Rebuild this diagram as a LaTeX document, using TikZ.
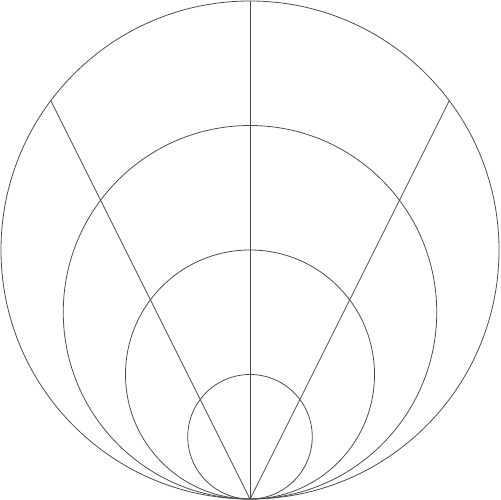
\documentclass[tikz,border=0pt]{standalone}
\begin{document}
\begin{tikzpicture}[scale=0.02]
\tikzstyle{every path}+=[draw=black!70, line width=0.45pt]
\useasboundingbox[draw=none] (0,0) rectangle (500,-500);
\coordinate (base) at (250,-499);
\coordinate (top) at (250,-1);
\coordinate (lefttip) at (50.8,-100.6);
\coordinate (righttip) at (449.2,-100.6);
\draw (250,-250) circle (249);
\draw (250,-312.25) circle (186.75);
\draw (250,-374.5) circle (124.5);
\draw (250,-436.75) circle (62.25);
\draw (base) -- (top);
\draw (base) -- (lefttip);
\draw (base) -- (righttip);
\end{tikzpicture}
\end{document}
